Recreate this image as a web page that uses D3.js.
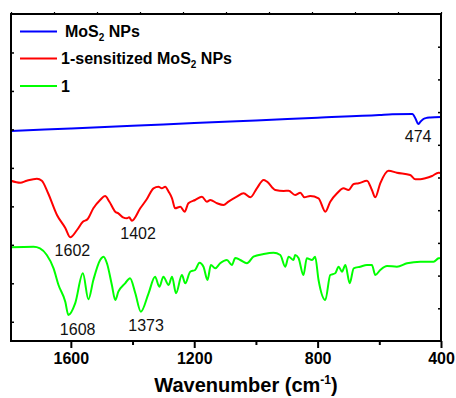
<!DOCTYPE html>
<html>
<head>
<meta charset="utf-8">
<script src="https://cdn.jsdelivr.net/npm/d3@7/dist/d3.min.js"></script>
<style>
  html, body { margin: 0; padding: 0; background: #fff; }
  svg { display: block; font-family: Arial, "Liberation Sans", sans-serif; }
</style>
</head>
<body>
<svg id="chart" width="456" height="398"></svg>
<script>
// FTIR spectra: [wavenumber (cm-1), transmittance (a.u., stacked offsets)]
const mos2 = [
  [1794, 210], [1600, 212.6], [1400, 215.3], [1200, 217.9], [1000, 220.6],
  [800, 223.3], [600, 226], [558, 226.8], [493, 227], [482, 222],
  [474, 217], [466, 219.5], [457, 222], [445, 223.2], [435, 223.5], [400, 224]
];

const sensitized = [
  [1794, 160.3], [1764, 158.3], [1743, 160.3], [1710, 162.3], [1694, 160.3],
  [1674, 148], [1645, 126], [1618, 113], [1602, 103.7], [1580, 111],
  [1561, 119.3], [1546, 121.7], [1527, 132.7], [1505, 141], [1489, 145],
  [1475, 139.3], [1456, 129.3], [1446, 127.7], [1431, 123.7], [1418, 122.7],
  [1411, 123.7], [1402, 120.3], [1375, 132.7], [1354, 141.7], [1332, 152.7],
  [1316, 154.3], [1305, 152.7], [1294, 154.3], [1283, 149.3], [1272, 142.7],
  [1262, 132.7], [1245, 134.3], [1231, 129.3], [1219, 137.7], [1197, 141],
  [1175, 144.3], [1159, 139.3], [1148, 141], [1126, 137.7], [1105, 136],
  [1089, 139.3], [1062, 144.3], [1040, 147.7], [1018, 143.7], [997, 152.7],
  [975, 161], [964, 159.3], [937, 151], [910, 150], [894, 150.3],
  [873, 146], [856, 148.3], [843, 143.7], [824, 145], [797, 142.7],
  [775, 129.3], [759, 139.3], [737, 147.7], [716, 152.7], [700, 151],
  [683, 157], [667, 157.7], [640, 160.3], [624, 151], [613, 143.7],
  [597, 157.7], [570, 170.3], [543, 168.3], [500, 166], [483, 161.7],
  [467, 161.7], [451, 162.7], [429, 165], [408, 168.3], [400, 168]
];

const ligand = [
  [1794, 93.7], [1721, 94.3], [1700, 92.7], [1678, 86], [1656, 72.7],
  [1640, 56], [1618, 39.3], [1608, 26], [1586, 37.7], [1561, 67.7],
  [1543, 41.7], [1527, 61], [1505, 81], [1494, 84.3], [1483, 77.7],
  [1467, 56], [1456, 41], [1446, 49.3], [1424, 57.7], [1408, 62.7],
  [1391, 47.7], [1373, 29.3], [1348, 47.7], [1327, 64.3], [1313, 54.3],
  [1300, 64.3], [1283, 56], [1272, 64.3], [1259, 47.7], [1240, 66],
  [1229, 57.7], [1213, 69.3], [1197, 71], [1183, 78.3], [1170, 74.3],
  [1157, 61], [1146, 76], [1132, 72.7], [1116, 77.7], [1094, 81],
  [1078, 76], [1067, 83], [1051, 81], [1029, 77.7], [1008, 84.3],
  [975, 87], [943, 88.3], [921, 86], [905, 74.3], [894, 84.3],
  [878, 81], [873, 86], [862, 83], [846, 66], [835, 82.7],
  [818, 81], [808, 84.3], [797, 61], [775, 41], [759, 66],
  [743, 67.7], [732, 74.3], [721, 69.3], [710, 76], [696, 57.7],
  [683, 72.7], [662, 74.3], [640, 76], [624, 76], [613, 66],
  [597, 71], [575, 75], [543, 74.3], [510, 77.7], [467, 79.3],
  [424, 79.3], [408, 82.7], [400, 83]
];

const seriesNames = ["MoS2 NPs", "1-sensitized MoS2 NPs", "1"];
const seriesColors = ["#0000ff", "#ff0000", "#00ff00"];

const xTicks = [1600, 1400, 1200, 1000, 800, 600, 400];
const xLabels = [1600, 1200, 800, 400];

// peak annotations: [text anchor wavenumber, baseline (a.u.), text]
const peakLabels = [
  [474, 199, "474"],
  [1595, 85, "1602"],
  [1382, 102, "1402"],
  [1578, 6, "1608"],
  [1356, 10.3, "1373"]
];

const m = { left: 11, right: 441, top: 14, bottom: 341 };

const svg = d3.select("#chart");

const x = d3.scaleLinear().domain([1794, 400]).range([m.left, m.right]);
const y = d3.scaleLinear().domain([0, 327]).range([m.bottom, m.top]);

// secondary frame scales used for the unlabeled tick marks
const yLeft = d3.scaleLinear().domain([0, 8.5]).range([m.bottom, m.top]);
const yRight = d3.scaleLinear().domain([0, 10]).range([m.bottom, m.top]);
const xTop = d3.scaleLinear().domain([10, 0]).range([m.left, m.right]);

const line = d3.line()
  .x(d => x(d[0]))
  .y(d => y(d[1]))
  .curve(d3.curveMonotoneX);

const plot = svg.append("g");
[mos2, sensitized, ligand].forEach((data, i) => {
  plot.append("path")
    .datum(data)
    .attr("fill", "none")
    .attr("stroke", seriesColors[i])
    .attr("stroke-width", 2)
    .attr("stroke-linejoin", "round")
    .attr("d", line);
});

// frame
svg.append("rect")
  .attr("x", m.left).attr("y", m.top)
  .attr("width", m.right - m.left).attr("height", m.bottom - m.top)
  .attr("fill", "none").attr("stroke", "#000").attr("stroke-width", 2);

// bottom axis
const xAxis = d3.axisBottom(x)
  .tickValues(xTicks)
  .tickSize(0)
  .tickFormat("");
const gx = svg.append("g").attr("transform", `translate(0,${m.bottom})`).call(xAxis);
gx.select(".domain").remove();
gx.selectAll(".tick line").remove();
gx.selectAll(".tick").append("line")
  .attr("y1", 0)
  .attr("y2", d => xLabels.includes(d) ? 7 : 4)
  .attr("stroke", "#000").attr("stroke-width", 2);
gx.selectAll(".tick").filter(d => xLabels.includes(d))
  .append("text")
  .attr("y", 23)
  .attr("fill", "#000")
  .attr("text-anchor", "middle")
  .style("font-size", "16px")
  .style("font-weight", "bold")
  .text(d => d);

// top axis (minor marks)
const gTop = svg.append("g").attr("transform", `translate(0,${m.top})`)
  .call(d3.axisTop(xTop).ticks(10).tickSize(2).tickFormat(""));
gTop.select(".domain").remove();
gTop.selectAll(".tick line").attr("stroke-width", 1.2);

// left axis (inward marks)
const gLeft = svg.append("g").attr("transform", `translate(${m.left},0)`)
  .call(d3.axisRight(yLeft).tickValues(d3.range(0.5, 8, 1)).tickSize(3).tickFormat(""));
gLeft.select(".domain").remove();
gLeft.selectAll(".tick line").attr("stroke-width", 1.5);

// right axis (inward marks)
const gRight = svg.append("g").attr("transform", `translate(${m.right},0)`)
  .call(d3.axisLeft(yRight).tickValues(d3.range(1, 10, 1)).tickSize(3).tickFormat(""));
gRight.select(".domain").remove();
gRight.selectAll(".tick line").attr("stroke-width", 1.5);

// x-axis title
const title = svg.append("text")
  .attr("x", 246).attr("y", 392)
  .attr("text-anchor", "middle")
  .style("font-size", "20px")
  .style("font-weight", "bold");
title.append("tspan").text("Wavenumber (cm");
title.append("tspan").attr("dy", -8).style("font-size", "12px").text("-1");
title.append("tspan").attr("dy", 8).text(")");

// peak labels
svg.append("g").selectAll("text")
  .data(peakLabels)
  .join("text")
  .attr("x", d => x(d[0]))
  .attr("y", d => y(d[1]))
  .attr("text-anchor", "middle")
  .style("font-size", "16px")
  .attr("fill", "#111")
  .text(d => d[2]);

// legend
const legend = svg.append("g");
const legendRows = [37, 64, 91.5];
legendRows.forEach((ly, i) => {
  legend.append("line")
    .attr("x1", 20).attr("x2", 57)
    .attr("y1", ly - 5.5).attr("y2", ly - 5.5)
    .attr("stroke", seriesColors[i]).attr("stroke-width", 2);
  const t = legend.append("text")
    .attr("x", i === 0 ? 65 : 61).attr("y", ly)
    .style("font-size", "16px")
    .style("font-weight", "bold");
  const name = seriesNames[i];
  const idx = name.indexOf("MoS2");
  if (idx >= 0) {
    t.append("tspan").text(name.slice(0, idx + 3));
    t.append("tspan").attr("dy", 4).style("font-size", "10px").text("2");
    t.append("tspan").attr("dy", -4).text(name.slice(idx + 4));
  } else {
    t.text(name);
  }
});
</script>
</body>
</html>
